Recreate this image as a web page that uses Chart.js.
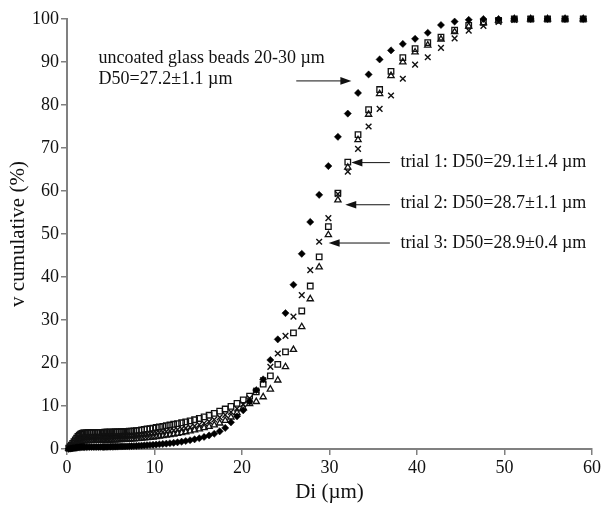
<!DOCTYPE html>
<html lang="en">
<head>
  <meta charset="UTF-8">
  <title>Cumulative size distribution - glass beads</title>
  <script src="https://cdn.jsdelivr.net/npm/chart.js"></script>
  <style>
    html, body { margin: 0; padding: 0; background: #fff; }
    canvas { display: block; }
  </style>
</head>
<body>

<canvas id="grafik" width="603" height="511"></canvas>

<script>
  // particle diameter classes (µm), shared by all four series
  const diameters = [
    0.2, 0.35, 0.5, 0.65, 0.8, 0.95, 1.1, 1.25, 1.4, 1.55, 1.7, 1.85,
    2.0, 2.2, 2.4, 2.6, 2.8, 3.0, 3.2, 3.4, 3.6, 3.8,
    4.01, 4.16, 4.31, 4.47, 4.63, 4.80, 4.98,
    5.16, 5.35, 5.54, 5.74, 5.95,
    6.17, 6.39, 6.63, 6.87,
    7.12, 7.38, 7.65, 7.93,
    8.22, 8.52, 8.83,
    9.15, 9.48, 9.83,
    10.19, 10.56, 10.95,
    11.35, 11.76, 12.19, 12.63, 13.10, 13.57, 14.07, 14.58, 15.12, 15.67, 16.24, 16.83,
    17.45, 18.08, 18.74, 19.43, 20.14, 20.87, 21.63, 22.42, 23.24, 24.09,
    24.97, 25.88, 26.83, 27.80, 28.82, 29.87, 30.96, 32.09, 33.26, 34.47,
    35.73, 37.03, 38.38, 39.78, 41.23, 42.74, 44.30, 45.91, 47.59, 49.32,
    51.12, 52.99, 54.92, 56.92, 59.00
  ];

  // cumulative volume (%) - uncoated beads (filled diamonds)
  const uncoated = [
    0.05, 0.08, 0.12, 0.16, 0.2, 0.25, 0.3, 0.34, 0.38, 0.41, 0.43, 0.44,
    0.45, 0.45, 0.46, 0.46, 0.47, 0.47, 0.48, 0.48, 0.49, 0.49,
    0.50, 0.50, 0.51, 0.51, 0.52, 0.52, 0.53,
    0.54, 0.55, 0.56, 0.57, 0.58,
    0.59, 0.60, 0.62, 0.64,
    0.66, 0.68, 0.70, 0.73,
    0.76, 0.80, 0.84,
    0.88, 0.93, 0.98,
    1.04, 1.10, 1.17,
    1.25, 1.34, 1.44, 1.56, 1.70, 1.86, 2.04, 2.25, 2.50, 2.80, 3.15, 3.55,
    4.1, 4.9, 6.2, 7.6, 9.0, 11.0, 13.7, 16.2, 20.7, 25.5,
    31.6, 38.2, 45.4, 52.8, 59.1, 65.8, 72.6, 78.0, 82.8, 87.1,
    90.6, 92.7, 94.2, 95.4, 96.8, 98.6, 99.4, 99.8, 100, 100,
    100, 100, 100, 100, 100
  ];

  // trial 1 (open squares)
  const trial1 = [
    0.2, 0.55, 0.9, 1.3, 1.7, 2.1, 2.5, 2.9, 3.2, 3.45, 3.62, 3.72,
    3.75, 3.77, 3.79, 3.80, 3.81, 3.82, 3.83, 3.84, 3.85, 3.86,
    3.87, 3.88, 3.89, 3.90, 3.91, 3.92, 3.93,
    3.94, 3.95, 3.96, 3.98, 4.00,
    4.02, 4.04, 4.07, 4.10,
    4.13, 4.16, 4.20, 4.25,
    4.35, 4.45, 4.55,
    4.65, 4.75, 4.87,
    5.00, 5.13, 5.27,
    5.42, 5.58, 5.75, 5.92, 6.10, 6.30, 6.55, 6.80, 7.10, 7.45, 7.85, 8.30,
    8.8, 9.3, 9.9, 10.6, 11.4, 12.3, 13.3, 15.1, 17.0, 19.7,
    22.6, 27.0, 32.1, 37.9, 44.7, 51.7, 59.5, 66.7, 73.1, 78.9,
    83.6, 87.8, 91.0, 93.1, 94.5, 95.8, 97.4, 98.5, 99.2, 99.7,
    100, 100, 100, 100, 100
  ];

  // trial 2 (open triangles)
  const trial2 = [
    0.1, 0.28, 0.45, 0.65, 0.85, 1.05, 1.25, 1.45, 1.62, 1.75, 1.84, 1.88,
    1.90, 1.91, 1.92, 1.93, 1.94, 1.95, 1.96, 1.97, 1.98, 1.99,
    2.00, 2.01, 2.02, 2.03, 2.04, 2.05, 2.06,
    2.07, 2.08, 2.10, 2.12, 2.14,
    2.16, 2.18, 2.20, 2.23,
    2.26, 2.29, 2.33, 2.37,
    2.42, 2.47, 2.53,
    2.60, 2.67, 2.75,
    2.84, 2.94, 3.05,
    3.17, 3.30, 3.44, 3.60, 3.78, 3.97, 4.18, 4.40, 4.65, 4.92, 5.22, 5.55,
    6.0, 6.6, 7.4, 8.4, 9.6, 10.5, 11.0, 12.1, 13.9, 16.0,
    19.1, 23.1, 28.4, 34.9, 42.3, 49.8, 57.9, 65.5, 71.9, 77.8,
    82.6, 86.8, 90.0, 92.3, 93.9, 95.3, 97.0, 98.3, 99.1, 99.7,
    100, 100, 100, 100, 100
  ];

  // trial 3 (crosses)
  const trial3 = [
    0.15, 0.4, 0.65, 0.95, 1.25, 1.55, 1.85, 2.15, 2.4, 2.6, 2.72, 2.78,
    2.80, 2.82, 2.84, 2.85, 2.86, 2.87, 2.88, 2.89, 2.90, 2.91,
    2.92, 2.93, 2.94, 2.95, 2.96, 2.97, 2.98,
    2.99, 3.00, 3.01, 3.03, 3.05,
    3.07, 3.09, 3.11, 3.14,
    3.17, 3.20, 3.24, 3.28,
    3.33, 3.38, 3.44,
    3.50, 3.57, 3.65,
    3.74, 3.84, 3.95,
    4.07, 4.20, 4.35, 4.50, 4.68, 4.88, 5.10, 5.35, 5.65, 6.00, 6.40, 6.85,
    7.35, 7.95, 8.6, 9.4, 10.4, 11.8, 13.6, 16.0, 19.1, 22.2,
    26.3, 30.8, 35.8, 41.6, 48.2, 53.7, 59.3, 64.5, 69.8, 75.0,
    79.1, 82.2, 86.1, 89.4, 91.1, 93.3, 95.5, 97.3, 98.4, 99.3,
    99.8, 100, 100, 100, 100
  ];

  const xTicks = [0, 10, 20, 30, 40, 50, 60];
  const yTicks = [0, 10, 20, 30, 40, 50, 60, 70, 80, 90, 100];

  // text notes and arrows, placed in data units
  const notes = [
    { text: 'uncoated glass beads 20-30 µm', x: 3.6, y: 90.9 },
    { text: 'D50=27.2±1.1 µm', x: 3.6, y: 85.9 },
    { text: 'trial 1: D50=29.1±1.4 µm', x: 38.1, y: 66.6 },
    { text: 'trial 2: D50=28.7±1.1 µm', x: 38.1, y: 57.2 },
    { text: 'trial 3: D50=28.9±0.4 µm', x: 38.1, y: 47.9 }
  ];
  const arrows = [
    { x0: 26.2, x1: 32.5, y: 85.6 },
    { x0: 36.9, x1: 32.5, y: 66.6 },
    { x0: 36.9, x1: 31.8, y: 56.8 },
    { x0: 36.9, x1: 29.9, y: 47.9 }
  ];

  const serif = "'Liberation Serif', 'Times New Roman', serif";
  const ink = '#111';
  const axisGrey = '#808080';

  function pts(values) {
    return diameters.map((d, i) => ({ x: d, y: values[i] }));
  }

  const catatanPlugin = {
    id: 'catatan',
    afterDatasetsDraw(chart) {
      const ctx = chart.ctx;
      const sx = chart.scales.x;
      const sy = chart.scales.y;
      ctx.save();
      ctx.fillStyle = ink;
      ctx.strokeStyle = ink;
      ctx.font = '18px ' + serif;
      ctx.textAlign = 'left';
      ctx.textBaseline = 'middle';
      notes.forEach(n => {
        ctx.fillText(n.text, sx.getPixelForValue(n.x), sy.getPixelForValue(n.y));
      });
      ctx.lineWidth = 1;
      arrows.forEach(a => {
        const p0 = sx.getPixelForValue(a.x0);
        const p1 = sx.getPixelForValue(a.x1);
        const py = sy.getPixelForValue(a.y);
        const dir = p1 > p0 ? 1 : -1;
        ctx.beginPath();
        ctx.moveTo(p0, py);
        ctx.lineTo(p1 - dir * 8, py);
        ctx.stroke();
        ctx.beginPath();
        ctx.moveTo(p1, py);
        ctx.lineTo(p1 - dir * 11, py - 3.8);
        ctx.lineTo(p1 - dir * 11, py + 3.8);
        ctx.closePath();
        ctx.fill();
      });
      ctx.restore();
    }
  };

  new Chart(document.getElementById('grafik'), {
    type: 'scatter',
    data: {
      datasets: [
        { label: 'uncoated', data: pts(uncoated), pointStyle: 'rectRot', pointRadius: 3.6,
          backgroundColor: '#000', borderColor: '#000', borderWidth: 0.5, clip: false },
        { label: 'trial 1', data: pts(trial1), pointStyle: 'rect', pointRadius: 3.9,
          backgroundColor: 'rgba(0,0,0,0)', borderColor: ink, borderWidth: 1.3, clip: false },
        { label: 'trial 2', data: pts(trial2), pointStyle: 'triangle', pointRadius: 3.6,
          backgroundColor: 'rgba(0,0,0,0)', borderColor: ink, borderWidth: 1.3, clip: false },
        { label: 'trial 3', data: pts(trial3), pointStyle: 'crossRot', pointRadius: 4,
          backgroundColor: 'rgba(0,0,0,0)', borderColor: ink, borderWidth: 1.4, clip: false }
      ]
    },
    options: {
      responsive: false,
      devicePixelRatio: 1,
      animation: false,
      layout: { padding: { top: 19, right: 9, left: 0, bottom: 0 } },
      plugins: {
        legend: { display: false },
        tooltip: { enabled: false }
      },
      scales: {
        x: {
          type: 'linear',
          min: 0,
          max: 60,
          afterBuildTicks: s => { s.ticks = xTicks.map(v => ({ value: v })); },
          afterFit: s => { s.height = 62; },
          border: { color: axisGrey, width: 2 },
          grid: { drawOnChartArea: false, drawTicks: true, tickLength: 6, color: axisGrey, lineWidth: 1.5 },
          ticks: { color: ink, font: { family: serif, size: 18 }, padding: 2, maxRotation: 0 },
          title: { display: true, text: 'Di (µm)', color: ink,
                   font: { family: serif, size: 21 }, padding: { top: 0, bottom: 6 } }
        },
        y: {
          type: 'linear',
          min: 0,
          max: 100,
          afterBuildTicks: s => { s.ticks = yTicks.map(v => ({ value: v })); },
          afterFit: s => { s.width = 67; },
          border: { color: axisGrey, width: 2 },
          grid: { drawOnChartArea: false, drawTicks: true, tickLength: 6, color: axisGrey, lineWidth: 1.5 },
          ticks: { color: ink, font: { family: serif, size: 18 }, padding: 2 },
          title: { display: true, text: 'v cumulative (%)', color: ink,
                   font: { family: serif, size: 21 }, padding: { top: 6, bottom: 0 } }
        }
      }
    },
    plugins: [catatanPlugin]
  });
</script>

</body>
</html>
